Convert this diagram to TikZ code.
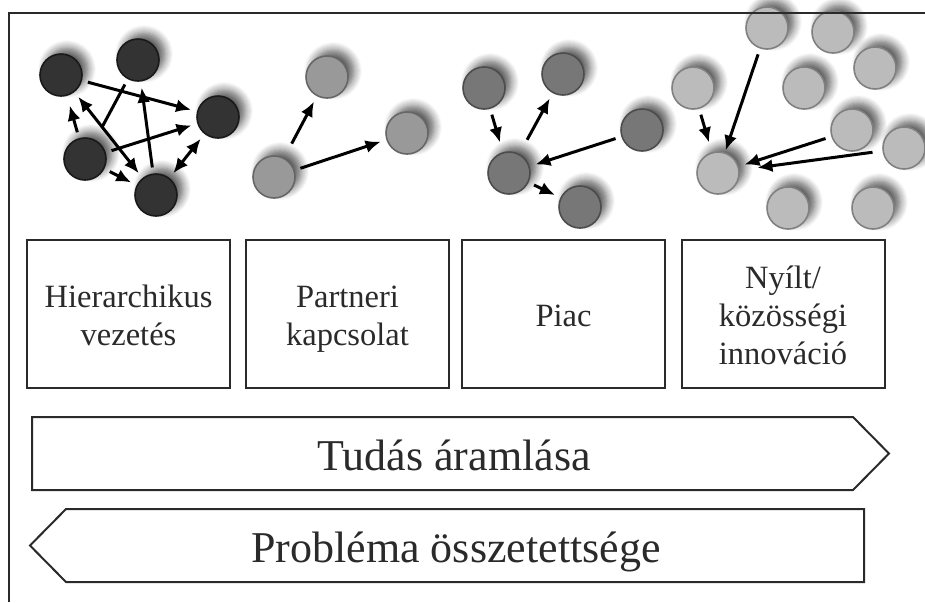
\documentclass[tikz,border=0pt]{standalone}
\usepackage{fontspec}
\setmainfont{Liberation Serif}
\usetikzlibrary{arrows.meta, shadows.blur}

\definecolor{inkgray}{HTML}{2A2A2A}
\definecolor{hierfill}{HTML}{333333}
\definecolor{partfill}{HTML}{999999}
\definecolor{piacfill}{HTML}{777777}
\definecolor{nyitfill}{HTML}{BBBBBB}

\newcommand{\boxtop}{\rule{0pt}{18pt}}

\tikzset{
  ball/.style={circle, minimum size=21pt, inner sep=0pt, line width=0.8pt,
    blur shadow={shadow xshift=3pt, shadow yshift=3pt, shadow blur radius=4pt,
      shadow blur steps=8, shadow opacity=65}},
  hier/.style={ball, fill=hierfill, draw=black!90},
  part/.style={ball, fill=partfill, draw=black!60},
  piac/.style={ball, fill=piacfill, draw=black!70},
  nyit/.style={ball, fill=nyitfill, draw=black!50},
  link/.style={line width=1.5pt, shorten <=3pt, shorten >=3pt},
  formbox/.style={draw=inkgray, line width=1pt, minimum width=101.5pt,
    minimum height=74pt, align=center, text=inkgray,
    font=\fontsize{16.25}{19}\selectfont},
  bigarrow/.style={draw=inkgray, line width=1pt, line join=miter},
  bigtext/.style={text=inkgray, font=\fontsize{22}{26}\selectfont, anchor=base}
}

\begin{document}
\begin{tikzpicture}[x=0.5pt, y=-0.5pt]
  \tikzset{>={Latex[length=7.5pt,width=6.5pt]}}
  \useasboundingbox (0,0) rectangle (925,602);

  % hierarchikus
  \node[hier] (hA) at (61,75) {};
  \node[hier] (hB) at (138,60) {};
  \node[hier] (hC) at (218,117) {};
  \node[hier] (hD) at (85,159) {};
  \node[hier] (hE) at (156,195) {};
  \draw[link,->] (hA) -- (hC);
  \draw[link,->] (hD) -- (hC);
  \draw[link,shorten >=7pt] (hB) -- (hD);
  \draw[link,->] (hE) -- (hB);
  \draw[link,<->] (hA) -- (hE);
  \draw[link,->,shorten >=5pt] (hD) -- (hA);
  \draw[link,->] (hD) -- (hE);
  \draw[link,<->] (hC) -- (hE);

  % partneri
  \node[part] (pF) at (327,77) {};
  \node[part] (pG) at (407,133) {};
  \node[part] (pH) at (274,177) {};
  \draw[link,->,shorten <=8pt] (pH) -- (pF);
  \draw[link,->] (pH) -- (pG);

  % piac
  \node[piac] (mI) at (484,88) {};
  \node[piac] (mJ) at (563,74) {};
  \node[piac] (mK) at (642,130) {};
  \node[piac] (mL) at (509,173) {};
  \node[piac] (mM) at (580,207) {};
  \draw[link,->,shorten >=5pt] (mI) -- (mL);
  \draw[link,->,shorten <=8pt] (mL) -- (mJ);
  \draw[link,->] (mK) -- (mL);
  \draw[link,->] (mL) -- (mM);

  % nyilt
  \node[nyit] (n1) at (767,28) {};
  \node[nyit] (n2) at (833,32) {};
  \node[nyit] (n3) at (875,68) {};
  \node[nyit] (n4) at (693,88) {};
  \node[nyit] (n5) at (804,88) {};
  \node[nyit] (n6) at (852,130) {};
  \node[nyit] (n7) at (904,148) {};
  \node[nyit] (n8) at (718,173) {};
  \node[nyit] (n9) at (788,208) {};
  \node[nyit] (n10) at (873,208) {};
  \draw[link,->,shorten >=5pt] (n4) -- (n8);
  \draw[link,->,shorten >=1pt] (n1) -- (n8);
  \draw[link,->] (n6) -- (n8);
  \draw[link,->,shorten <=5pt,shorten >=9pt] (n7) -- (n8);

  % boxes
  \node[formbox] (hier) at (128.5,314) {\boxtop Hierarchikus\\vezetés\strut};
  \node[formbox] (partner) at (347.5,314) {\boxtop Partneri\\kapcsolat\strut};
  \node[formbox] (piac) at (563.5,314) {\boxtop Piac\strut};
  \node[formbox] (nyilt) at (783,314) {\boxtop Nyílt/\\közösségi\\innováció\strut};

  % big arrows
  \draw[bigarrow] (32,417) -- (853,417) -- (889,453.5) -- (853,490) -- (32,490) -- cycle;
  \node[bigtext] (flow) at (454,470) {Tudás áramlása};
  \draw[bigarrow] (864,509) -- (66,509) -- (30,545.5) -- (66,582) -- (864,582) -- cycle;
  \node[bigtext] (complex) at (456,562) {Probléma összetettsége};

  % frame
  \draw[inkgray, line width=1pt] (9,602) -- (9,13) -- (925,13);
\end{tikzpicture}
\end{document}
